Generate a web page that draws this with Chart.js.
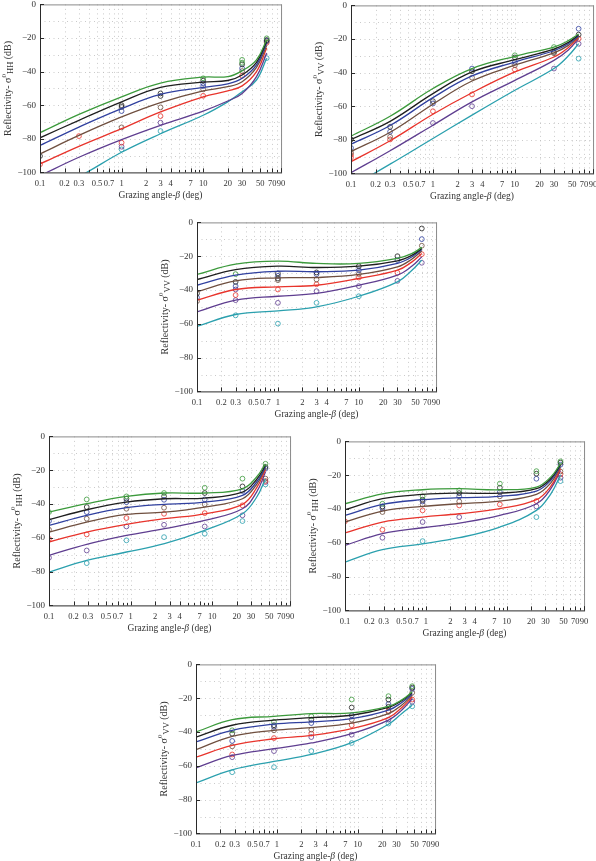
<!DOCTYPE html>
<html>
<head>
<meta charset="utf-8">
<script src="https://cdn.jsdelivr.net/npm/chart.js@4.4.1/dist/chart.umd.min.js"></script>
<style>
  html, body { margin: 0; padding: 0; background: #fff; overflow: hidden; }
  body { width: 596px; height: 861px; position: relative; }
  canvas { position: absolute; }
</style>
</head>
<body>
<script>
'use strict';

// series colours, one per curve (top curve first)
var seriesColors = ['#3c9a3c', '#1f1f1f', '#30409f', '#6f4f3f', '#e8342c', '#5f3e90', '#2ba0ae'];

var xTickLabels = [0.1, 0.2, 0.3, 0.5, 0.7, 1, 2, 3, 4, 7, 10, 20, 30, 50, 70, 90];
var yTicks = [-100, -80, -60, -40, -20, 0];

// ---- panel 1 (HH, top left)
var p1LineX = [0.1, 0.3, 1, 3, 10, 20, 30, 45, 60];
var p1Lines = [
  [-76.4, -65.5, -55, -46.8, -43.3, -43, -39.5, -33, -21],
  [-79.4, -69, -58, -49.4, -46.3, -45.3, -42, -34.5, -22],
  [-84, -73, -62, -53.6, -49.4, -47.3, -44, -36, -23],
  [-89, -78, -67, -58.5, -51.5, -49, -46, -37.5, -24.5],
  [-95, -84.5, -74, -64, -55, -51.5, -48.5, -40, -26],
  [-102, -91, -80.5, -72, -63.5, -57.5, -53, -43, -29],
  [-113, -102.5, -88, -77, -66, -58, -52, -45, -32]
];
var p1Dots = [
  [[10, -44], [30, -33], [30, -34.7], [60, -20.2]],
  [[0.1, -90.3], [1, -60], [1, -61], [3, -53], [3, -54.5], [10, -45.4], [30, -35.7], [60, -21.2]],
  [[1, -63.5], [10, -47], [10, -48.6], [30, -38], [60, -21.6]],
  [[1, -73.2], [3, -61.3], [10, -50.6], [30, -39.7], [60, -22]],
  [[0.1, -95.2], [0.3, -78.4], [1, -82.3], [3, -66.5], [10, -54.4], [30, -42.5], [60, -22.8]],
  [[1, -84.7], [3, -70.4]],
  [[1, -86.3], [3, -75.4], [60, -32]]
];

// ---- panel 2 (VV, top right)
var p2LineX = [0.1, 0.3, 1, 3, 10, 30, 45, 60];
var p2Lines = [
  [-77.8, -66, -49.5, -37.6, -30.3, -24.8, -21, -17],
  [-79.8, -69, -52.5, -39.6, -32.3, -26, -22, -17.5],
  [-82.6, -71.5, -54.9, -42, -33.7, -27, -22.8, -18],
  [-87, -75.5, -58.8, -45, -35.6, -28.3, -23.8, -18.5],
  [-93, -80.6, -64.8, -52, -39.6, -30.7, -25, -19.2],
  [-99.6, -86.5, -71.3, -57.4, -44.6, -32.7, -26.5, -19.8],
  [-108, -94.5, -79.2, -65.3, -50.5, -37.6, -30, -22.8]
];
var p2Dots = [
  [[10, -29.7], [30, -24.8]],
  [[0.1, -79.8], [0.3, -72.3], [1, -57], [3, -39.2], [10, -31], [30, -27.7], [60, -17.4]],
  [[0.1, -84.8], [0.3, -75.2], [1, -58.4], [3, -37.6], [10, -33.7], [60, -13.9]],
  [[0.1, -87.7], [0.3, -78.2], [3, -43], [10, -35.6], [30, -28.5]],
  [[0.1, -89], [0.1, -90.5], [0.3, -79.8], [1, -63], [3, -53], [10, -38.2], [60, -19.8]],
  [[1, -70], [3, -60], [30, -37.6], [60, -22.8]],
  [[60, -31.7]]
];

// ---- panel 3 (VV, middle)
var p3LineX = [0.1, 0.3, 1, 3, 10, 30, 45, 60];
var p3Lines = [
  [-30.8, -24.7, -22.9, -24.3, -24.3, -21.3, -18.5, -14.8],
  [-33.8, -27.9, -25.9, -26.7, -25.9, -22.7, -19.5, -15.4],
  [-37.2, -31.2, -28.9, -29.2, -28.3, -24.3, -20.5, -16],
  [-41.1, -34.6, -32.8, -32.6, -30.8, -26.3, -21.8, -16.8],
  [-46, -39.7, -38.1, -37.2, -33.2, -28.3, -23.5, -18.4],
  [-53, -46, -43.7, -42, -37.2, -31.2, -26, -20.4],
  [-61.5, -54.5, -52.4, -50, -43.7, -35.2, -28.5, -22.3]
];
var p3Dots = [
  [[0.3, -30.6]],
  [[0.1, -42], [0.3, -35.2], [1, -30.2], [1, -33.2], [3, -29.6], [10, -25.9], [30, -20], [60, -3.6]],
  [[0.1, -44.5], [0.3, -37.7], [1, -31.6], [3, -30.6], [10, -28.3], [30, -22.3], [60, -9.9]],
  [[0.1, -46.6], [1, -34.2], [3, -33.8], [10, -30.5], [60, -13.8]],
  [[0.3, -43], [1, -39.7], [3, -36.6], [10, -32.6], [30, -29.8], [60, -18.8]],
  [[0.3, -39.7], [0.3, -46], [1, -47.6], [3, -40.7], [10, -37.7], [30, -34.6], [60, -23.9]],
  [[0.3, -55], [1, -59.9], [3, -47.6], [10, -43.7]]
];

// ---- panel 4 (HH, lower left)
var p4LineX = [0.1, 0.29, 0.89, 2.6, 8.1, 23.5, 35, 45];
var p4Lines = [
  [-44.8, -39.8, -35.5, -33.5, -33.5, -31, -24, -16.2],
  [-49.3, -43.4, -38.9, -36.9, -36.5, -33, -25.5, -17.2],
  [-52.7, -46.7, -42.2, -40.2, -38.9, -34.9, -27, -18.1],
  [-56.6, -50.7, -46.2, -44.8, -41.8, -36.9, -28.5, -18.5],
  [-62.5, -56.6, -52, -48.7, -45.8, -40.2, -30.5, -19.7],
  [-70.4, -63.9, -58.6, -54.6, -49.7, -42.8, -33, -21.1],
  [-80.3, -73.4, -68.4, -63.5, -55.6, -45.8, -36, -25]
];
var p4Dots = [
  [[0.1, -44.8], [0.29, -37.3], [0.89, -35.5], [2.57, -33.5], [8.1, -30.4], [23.5, -25], [45, -16.2]],
  [[0.29, -41.8], [0.89, -36.9], [2.57, -35.5], [8.1, -33.5], [23.5, -29.6], [45, -18.1]],
  [[0.1, -50.1], [0.29, -44.8], [0.89, -38.9], [2.57, -37.5], [8.1, -37.3], [23.5, -32.3], [45, -19.1]],
  [[0.1, -55.2], [0.29, -48.7], [0.89, -42.8], [2.57, -42.2], [8.1, -40.2], [45, -25]],
  [[0.1, -60.6], [0.29, -58], [0.89, -48.3], [2.57, -45.8], [8.1, -45.4], [23.5, -40.8], [45, -26.4]],
  [[0.1, -71.8], [0.29, -67.5], [0.89, -53.3], [2.57, -52.3], [8.1, -53.3], [23.5, -46.7], [45, -27]],
  [[0.29, -75], [0.89, -61.5], [2.57, -59.6], [8.1, -57.6], [23.5, -50.1], [45, -28.4]]
];

// ---- panel 5 (HH, lower right)
var p5LineX = [0.1, 0.29, 0.91, 2.58, 8.2, 23.2, 35, 46];
var p5Lines = [
  [-36.9, -31, -28.6, -28, -28.6, -27, -21, -13.2],
  [-40.4, -33.9, -31.4, -30.6, -30.6, -28, -22, -13.8],
  [-43.8, -37.3, -34.5, -33.3, -32.5, -29.4, -23, -14.4],
  [-47.7, -41.2, -38.5, -36.9, -35.3, -31.4, -24.5, -15.2],
  [-54.2, -47.7, -44.8, -42.8, -39.8, -34.5, -26.5, -16.2],
  [-61.5, -54.6, -51.1, -48.3, -43.8, -36.9, -28, -17.2],
  [-71.4, -64.1, -60.6, -57, -50.7, -40.8, -31, -20.1]
];
var p5Dots = [
  [[0.29, -36.9], [0.91, -32.5], [2.58, -29], [8.2, -25], [23.2, -17.6], [46, -11.8]],
  [[0.29, -38.5], [0.91, -34.5], [2.58, -30.6], [8.2, -27.4], [23.2, -19.1], [46, -12.6]],
  [[0.29, -39.5], [0.91, -35.5], [2.58, -32.5], [8.2, -30], [23.2, -22.1], [46, -13.8]],
  [[0.29, -41.8], [0.91, -37.3], [2.58, -35.5], [8.2, -32.5], [46, -17.8]],
  [[0.1, -47.3], [0.29, -52.3], [0.91, -40.8], [2.58, -37.9], [8.2, -37.3], [23.2, -35.3], [46, -19.5]],
  [[0.29, -57], [0.91, -47.7], [2.58, -44.8], [23.2, -38.5], [46, -21.5]],
  [[0.91, -59], [23.2, -44.8], [46, -23.5]]
];

// ---- panel 6 (VV, bottom)
var p6LineX = [0.1, 0.28, 0.92, 2.66, 8.4, 23.9, 35, 47];
var p6Lines = [
  [-40, -32.7, -30.7, -29.1, -28.7, -24.8, -21, -16.2],
  [-43, -36, -33, -31.5, -30.1, -25.5, -21.5, -16.8],
  [-45.9, -39, -35.4, -34, -32.1, -27.1, -22.5, -17.6],
  [-50.5, -42.6, -39, -37.4, -34.7, -29.1, -24, -18.2],
  [-54.9, -47.9, -44, -42, -38, -31.5, -25.5, -19.2],
  [-61.2, -53.9, -49.9, -46.5, -41, -33, -27, -20.2],
  [-70.1, -62.4, -57.4, -53.3, -46.3, -35.4, -29, -24.2]
];
var p6Dots = [
  [[0.28, -39], [0.92, -34], [2.66, -30.7], [8.4, -20.8], [23.9, -18.8], [47, -12.9]],
  [[0.28, -41], [0.92, -36], [2.66, -32.7], [8.4, -25.5], [23.9, -20.8], [23.9, -25.1], [47, -13.7]],
  [[0.28, -45.3], [0.92, -37], [2.66, -34.7], [8.4, -30.1], [23.9, -23.5], [47, -14.5]],
  [[0.28, -48.5], [0.92, -39], [2.66, -38.6], [8.4, -32.7], [23.9, -28.1], [47, -16.8]],
  [[0.28, -53.3], [0.92, -43.6], [2.66, -41], [8.4, -36], [23.9, -27.5], [47, -20.8]],
  [[0.28, -54.9], [0.92, -51.3], [2.66, -43], [8.4, -41.6], [23.9, -32.7], [47, -22.2]],
  [[0.28, -63.8], [0.92, -60.8], [2.66, -51.3], [8.4, -46.5], [23.9, -35], [47, -24.8]]
];

var panelLineX = [p1LineX, p2LineX, p3LineX, p4LineX, p5LineX, p6LineX];
var panelLines = [p1Lines, p2Lines, p3Lines, p4Lines, p5Lines, p6Lines];
var panelDots = [p1Dots, p2Dots, p3Dots, p4Dots, p5Dots, p6Dots];
var panelPol = ['HH', 'VV', 'VV', 'HH', 'HH', 'VV'];

// plot area of each panel on the page: left, top, right, bottom
var plotBoxes = [
  [40, 4, 281, 172],
  [351, 5, 593, 173],
  [197, 222, 436, 391],
  [49, 436, 290, 605],
  [345, 441, 584, 610],
  [196, 664, 435, 833]
];

var FONT = '"Liberation Serif", "DejaVu Serif", serif';
var PAD_L = 44, PAD_T = 6, PAD_R = 6, PAD_B = 34;

// minor tick positions 0.1..0.9, 1..9, 10..90
var xMinor = [];
[0.1, 1, 10].forEach(function (d) {
  for (var k = 1; k <= 9; k++) xMinor.push(+(k * d).toFixed(2));
});

function dash(ctx, x1, y1, x2, y2) {
  ctx.beginPath();
  ctx.moveTo(x1, y1);
  ctx.lineTo(x2, y2);
  ctx.stroke();
}

var decorPlugin = {
  id: 'decor',
  beforeDatasetsDraw: function (chart) {
    var ctx = chart.ctx, a = chart.chartArea;
    var xs = chart.scales.x, ys = chart.scales.y;
    ctx.save();
    ctx.strokeStyle = '#bdbdbd';
    ctx.lineWidth = 0.8;
    ctx.setLineDash([1, 3.5]);
    xMinor.forEach(function (v) {
      if (v <= 0.1) return;
      var px = Math.round(xs.getPixelForValue(v)) + 0.5;
      dash(ctx, px, a.top, px, a.bottom);
    });
    for (var v = -90; v < 0; v += 10) {
      var py = Math.round(ys.getPixelForValue(v)) + 0.5;
      dash(ctx, a.left, py, a.right, py);
    }
    ctx.restore();
  },
  afterDatasetsDraw: function (chart) {
    var ctx = chart.ctx, a = chart.chartArea;
    var xs = chart.scales.x, ys = chart.scales.y;
    var pol = chart.options.plugins.decor.pol;
    ctx.save();
    // frame
    ctx.lineWidth = 1;
    ctx.strokeStyle = '#8a8a8a';
    dash(ctx, a.left, a.top + 0.5, a.right + 0.5, a.top + 0.5);
    dash(ctx, a.right + 0.5, a.top, a.right + 0.5, a.bottom);
    ctx.strokeStyle = '#2a2a2a';
    dash(ctx, a.left + 0.5, a.top, a.left + 0.5, a.bottom + 0.5);
    dash(ctx, a.left, a.bottom + 0.5, a.right + 1, a.bottom + 0.5);
    // inward ticks
    xMinor.forEach(function (v) {
      var px = Math.round(xs.getPixelForValue(v)) + 0.5;
      var len = xTickLabels.indexOf(v) >= 0 ? 4 : 2.5;
      dash(ctx, px, a.bottom, px, a.bottom - len);
    });
    var p90 = Math.round(xs.getPixelForValue(90)) + 0.5;
    dash(ctx, p90, a.bottom, p90, a.bottom - 4);
    yTicks.forEach(function (v) {
      var py = Math.round(ys.getPixelForValue(v)) + 0.5;
      dash(ctx, a.left, py, a.left + 4, py);
    });
    // x title
    ctx.fillStyle = '#333';
    ctx.textBaseline = 'middle';
    var cx = (a.left + a.right) / 2;
    var t1 = 'Grazing angle-', t2 = '\u03b2', t3 = ' (deg)';
    ctx.font = '9.5px ' + FONT;
    var w1 = ctx.measureText(t1).width, w3 = ctx.measureText(t3).width;
    ctx.font = 'italic 9.5px ' + FONT;
    var w2 = ctx.measureText(t2).width;
    var x0 = cx - (w1 + w2 + w3) / 2, ty = a.bottom + 23;
    ctx.textAlign = 'left';
    ctx.font = '9.5px ' + FONT;
    ctx.fillText(t1, x0, ty);
    ctx.font = 'italic 9.5px ' + FONT;
    ctx.fillText(t2, x0 + w1, ty);
    ctx.font = '9.5px ' + FONT;
    ctx.fillText(t3, x0 + w1 + w2, ty);
    // y title with sub/superscript
    var parts = [
      { t: 'Reflectivity- \u03c3', s: 10, dy: 0 },
      { t: '0', s: 7, dy: -4 },
      { t: pol, s: 8.5, dy: 2.5 },
      { t: ' (dB)', s: 10, dy: 0 }
    ];
    var total = 0;
    parts.forEach(function (p) {
      ctx.font = p.s + 'px ' + FONT;
      p.w = ctx.measureText(p.t).width;
      total += p.w;
    });
    ctx.translate(a.left - 32, (a.top + a.bottom) / 2);
    ctx.rotate(-Math.PI / 2);
    var px = -total / 2;
    parts.forEach(function (p) {
      ctx.font = p.s + 'px ' + FONT;
      ctx.fillText(p.t, px, p.dy);
      px += p.w;
    });
    ctx.restore();
  }
};

function fmtY(v) {
  return v < 0 ? '\u2212' + (-v) : String(v);
}

plotBoxes.forEach(function (box, i) {
  var canvas = document.createElement('canvas');
  var w = box[2] - box[0] + PAD_L + PAD_R;
  var h = box[3] - box[1] + PAD_T + PAD_B;
  canvas.width = w;
  canvas.height = h;
  canvas.style.width = w + 'px';
  canvas.style.height = h + 'px';
  document.body.appendChild(canvas);

  var datasets = [];
  panelLines[i].forEach(function (vals, s) {
    datasets.push({
      type: 'line',
      data: vals.map(function (y, k) { return { x: panelLineX[i][k], y: y }; }),
      borderColor: seriesColors[s],
      borderWidth: 1.3,
      pointRadius: 0,
      tension: 0.4,
      fill: false
    });
  });
  panelDots[i].forEach(function (pts, s) {
    datasets.push({
      type: 'scatter',
      data: pts.map(function (p) { return { x: p[0], y: p[1] }; }),
      borderColor: seriesColors[s],
      backgroundColor: 'rgba(0,0,0,0)',
      pointRadius: 2.4,
      pointBorderWidth: 0.8,
      showLine: false
    });
  });

  var chart = new Chart(canvas.getContext('2d'), {
    type: 'scatter',
    data: { datasets: datasets },
    options: {
      responsive: false,
      maintainAspectRatio: false,
      animation: false,
      devicePixelRatio: 1,
      layout: { padding: { left: 0, top: PAD_T, right: PAD_R, bottom: 0 } },
      plugins: {
        legend: { display: false },
        tooltip: { enabled: false },
        decor: { pol: panelPol[i] }
      },
      scales: {
        x: {
          type: 'logarithmic',
          min: 0.1,
          max: 90,
          grid: { display: false, drawTicks: false },
          border: { display: false },
          afterBuildTicks: function (scale) {
            scale.ticks = xTickLabels.map(function (v) { return { value: v }; });
          },
          afterFit: function (scale) { scale.height = PAD_B; },
          ticks: {
            autoSkip: false,
            maxRotation: 0,
            padding: 6,
            color: '#333',
            font: { family: FONT, size: 8.5 },
            callback: function (v) { return String(v); }
          }
        },
        y: {
          min: -100,
          max: 0,
          grid: { display: false, drawTicks: false },
          border: { display: false },
          afterBuildTicks: function (scale) {
            scale.ticks = yTicks.map(function (v) { return { value: v }; });
          },
          afterFit: function (scale) { scale.width = PAD_L; },
          ticks: {
            padding: 4,
            color: '#333',
            font: { family: FONT, size: 9 },
            callback: fmtY
          }
        }
      }
    },
    plugins: [decorPlugin]
  });

  // make the plot area exactly the size of the box, then place the canvas
  var a = chart.chartArea;
  var dw = (box[2] - box[0]) - (a.right - a.left);
  var dh = (box[3] - box[1]) - (a.bottom - a.top);
  if (dw !== 0 || dh !== 0) {
    chart.resize(w + dw, h + dh);
    a = chart.chartArea;
  }
  canvas.style.left = (box[0] - a.left) + 'px';
  canvas.style.top = (box[1] - a.top) + 'px';
});
</script>
</body>
</html>
